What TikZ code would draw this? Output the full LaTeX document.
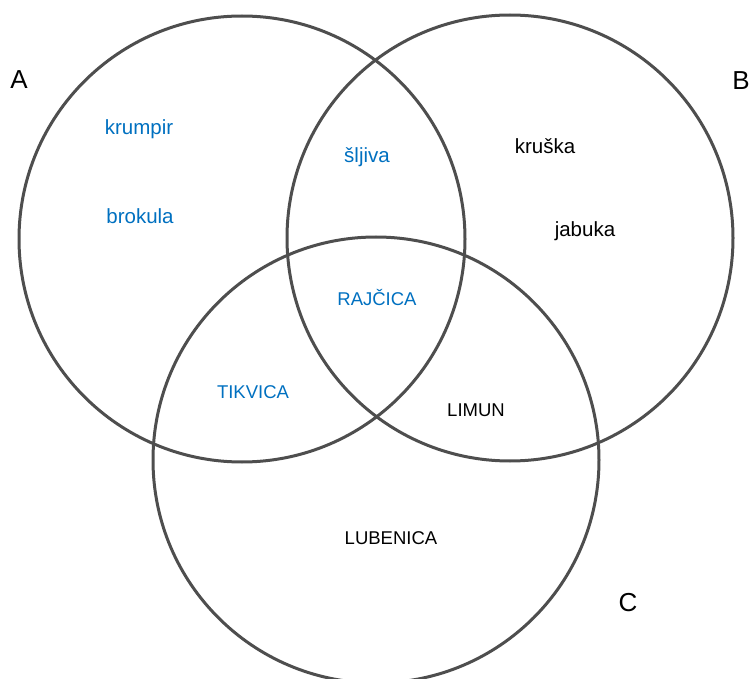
\documentclass[tikz,border=0pt]{standalone}
\usepackage{fontspec}
\setmainfont{Liberation Sans}
\definecolor{ringgray}{RGB}{78,78,78}
\definecolor{wordblue}{RGB}{0,112,192}
\begin{document}
\begin{tikzpicture}[x=1pt,y=-1pt,
  ring/.style={circle,draw=ringgray,line width=3pt,inner sep=0pt,minimum size=446pt},
  lbl/.style={font=\fontsize{26}{26}\selectfont,anchor=center,inner sep=0pt},
  bluecap/.style={font=\fontsize{18.5}{18.5}\selectfont,text=wordblue,anchor=base,inner sep=0pt},
  blackcap/.style={font=\fontsize{18.5}{18.5}\selectfont,text=black,anchor=base,inner sep=0pt},
  bluelow/.style={font=\fontsize{20.5}{20.5}\selectfont,text=wordblue,anchor=base,inner sep=0pt},
  blacklow/.style={font=\fontsize{20.5}{20.5}\selectfont,text=black,anchor=base,inner sep=0pt}]
\useasboundingbox (0,0) rectangle (753,679);
\node[ring] (cA) at (242,239) {};
\node[ring] (cB) at (510,238) {};
\node[ring] (cC) at (376,460) {};
\node[lbl] (lA) at (19,80) {A};
\node[lbl] (lB) at (741,81) {B};
\node[lbl] (lC) at (628,603) {C};
\node[bluelow] (t1) at (139,135) {krumpir};
\node[bluelow] (t2) at (140,224) {brokula};
\node[bluelow] (t3) at (367,163) {šljiva};
\node[blacklow] (t4) at (545,154) {kruška};
\node[blacklow] (t5) at (585,237) {jabuka};
\node[bluecap] (t6) at (377,306) {RAJČICA};
\node[bluecap] (t7) at (253,398) {TIKVICA};
\node[blackcap] (t8) at (476,416) {LIMUN};
\node[blackcap] (t9) at (391,544) {LUBENICA};
\end{tikzpicture}
\end{document}
